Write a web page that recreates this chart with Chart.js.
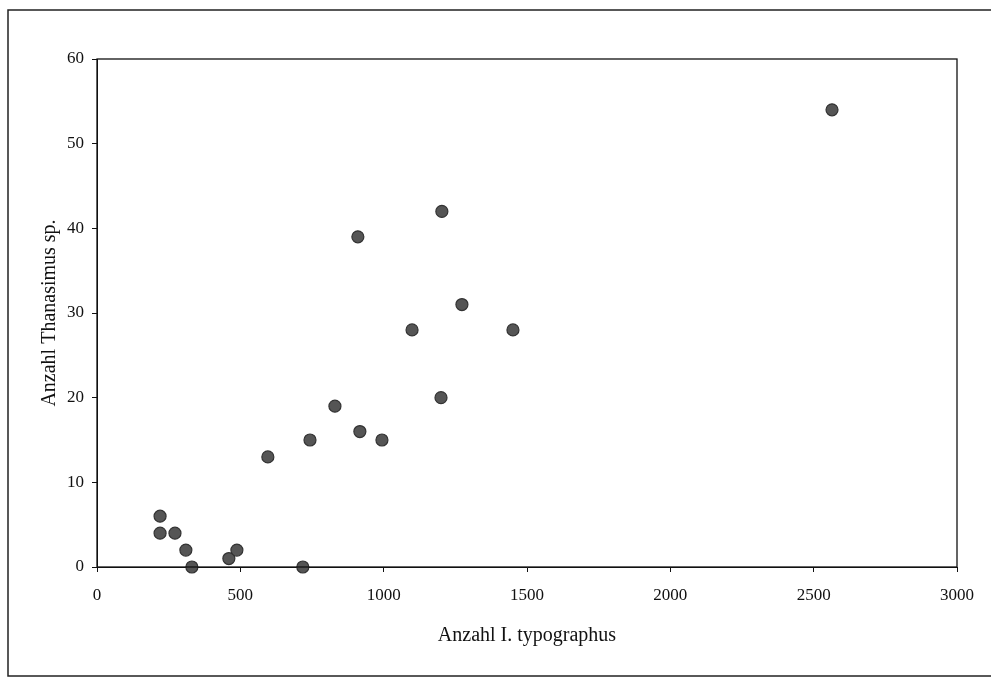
<!DOCTYPE html>
<html><head><meta charset="utf-8">
<script src="https://cdn.jsdelivr.net/npm/chart.js@4/dist/chart.umd.min.js"></script>
<style>html,body{margin:0;padding:0;background:#fff}#wrap{width:991px;height:681px}</style>
</head><body><div id="wrap"><canvas id="c" width="991" height="681"></canvas></div>
<script>
const typographus = [220,220,272,310,331,460,488,596,718,743,830,910,917,994,1099,1200,1203,1273,1451,2564];
const thanasimus  = [6,4,4,2,0,1,2,13,0,15,19,39,16,15,28,20,42,31,28,54];
const xTitle = 'Anzahl I. typographus';
const yTitle = 'Anzahl Thanasimus sp.';

const pts = typographus.map((x,i)=>({x, y: thanasimus[i]}));
const serif = "'Liberation Serif','Times New Roman',serif";

const frame = {
  id:'frame',
  beforeDraw(chart){
    const ctx = chart.ctx;
    ctx.save();
    ctx.fillStyle='#fff';ctx.fillRect(0,0,chart.width,chart.height);
    ctx.strokeStyle='#222';ctx.lineWidth=1.5;
    ctx.strokeRect(8,10,990,666);
    ctx.restore();
  },
  afterDatasetsDraw(chart){
    const a = chart.chartArea, ctx = chart.ctx;
    ctx.save();
    ctx.strokeStyle='#111';ctx.lineWidth=1.3;
    ctx.strokeRect(a.left,a.top,a.right-a.left,a.bottom-a.top);
    ctx.restore();
  }
};

new Chart(document.getElementById('c'),{
  type:'scatter',
  data:{datasets:[{data:pts,backgroundColor:'#555',borderColor:'#333',borderWidth:1.2,pointRadius:6,pointHoverRadius:6,clip:false}]},
  plugins:[frame],
  options:{
    responsive:false,animation:false,
    layout:{padding:{left:10,right:34,top:59,bottom:10}},
    plugins:{legend:{display:false},tooltip:{enabled:false}},
    scales:{
      x:{type:'linear',min:0,max:3000,
        ticks:{stepSize:500,color:'#111',font:{family:serif,size:17},padding:13,callback:v=>String(v)},
        grid:{drawOnChartArea:false,drawTicks:true,tickLength:5,color:'#111'},
        border:{color:'#111'},
        title:{display:true,text:xTitle,color:'#111',font:{family:serif,size:20},padding:{top:0,bottom:23}},
        afterFit(s){s.height=681-567-10;}
      },
      y:{type:'linear',min:0,max:60,
        ticks:{stepSize:10,color:'#111',font:{family:serif,size:17},padding:8,callback:v=>String(v)},
        grid:{drawOnChartArea:false,drawTicks:true,tickLength:5,color:'#111'},
        border:{color:'#111'},
        title:{display:true,text:yTitle,color:'#111',font:{family:serif,size:20},padding:{top:28,bottom:0}},
        afterFit(s){s.width=97-10;}
      }
    }
  }
});
</script></body></html>
